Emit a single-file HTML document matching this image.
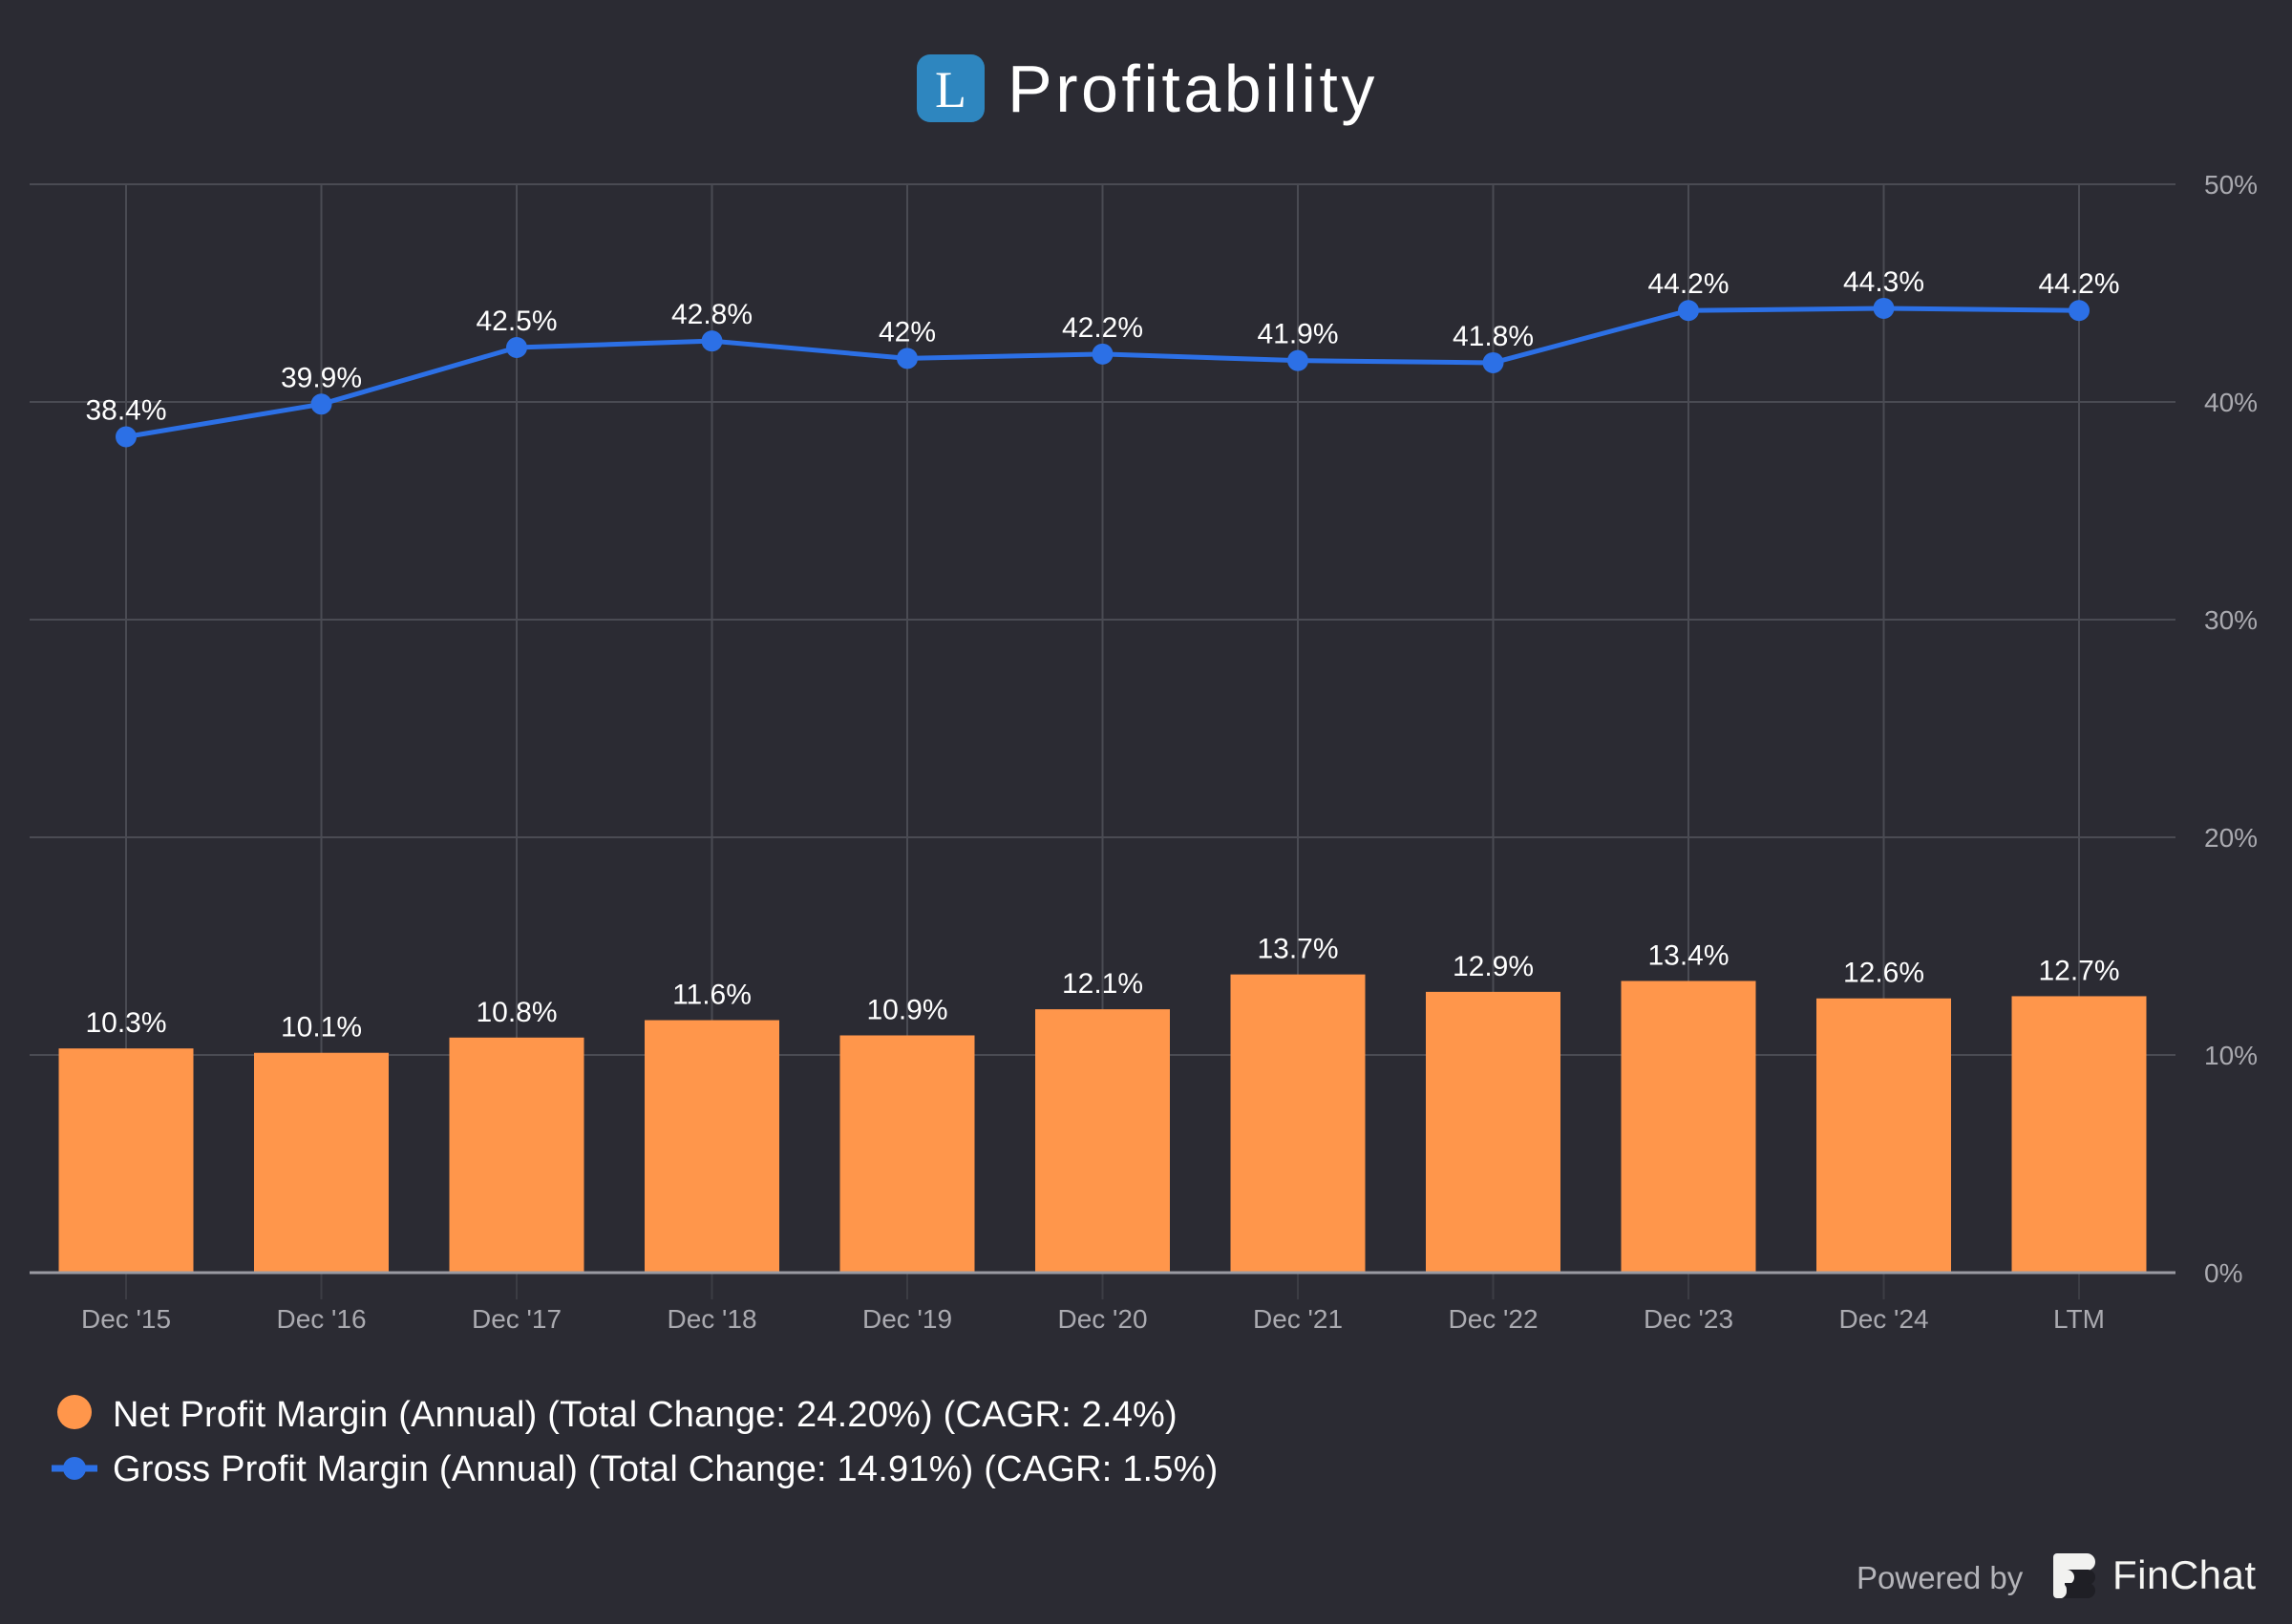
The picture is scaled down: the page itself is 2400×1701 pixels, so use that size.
<!DOCTYPE html>
<html><head><meta charset="utf-8"><style>
html,body{margin:0;padding:0;background:#2b2b33;}
svg{display:block;font-family:"Liberation Sans",sans-serif;}
</style></head><body>
<svg width="2400" height="1701" viewBox="0 0 2400 1701">
<rect x="0" y="0" width="2400" height="1701" fill="#2b2b33"/>
<g>
<rect x="960" y="57" width="71" height="71" rx="14" fill="#2e86bf"/>
<text x="995.5" y="112" font-family="Liberation Serif,serif" font-size="54" fill="#fff" text-anchor="middle">L</text>
<text x="1055" y="117" font-size="70" letter-spacing="3.5" fill="#fff">Profitability</text>
</g>
<g id="grid"></g>
<g id="bars"></g>
<g id="line"></g>
<g id="xaxis"></g>
<g>
<g>
<circle cx="78" cy="1479" r="18" fill="#ff964b"/>
<text x="118" y="1494" font-size="38" letter-spacing="0.2" fill="#fff">Net Profit Margin (Annual) (Total Change: 24.20%) (CAGR: 2.4%)</text>
</g>
<g>
<line x1="54" y1="1538" x2="102" y2="1538" stroke="#2c70e6" stroke-width="7"/>
<circle cx="78" cy="1538" r="12" fill="#2c70e6"/>
<text x="118" y="1551" font-size="38" letter-spacing="0.2" fill="#fff">Gross Profit Margin (Annual) (Total Change: 14.91%) (CAGR: 1.5%)</text>
</g>
</g>
<g>
<text x="1944" y="1664" font-size="33" fill="#b4b4b9">Powered by</text>
<rect x="2150" y="1627" width="44" height="18" rx="9" fill="#f2f2f0"/>
<rect x="2150" y="1644" width="44" height="16" rx="8" fill="#1f1f25"/>
<rect x="2150" y="1644" width="22" height="16" rx="8" fill="#f2f2f0"/>
<rect x="2150" y="1658" width="44" height="16" rx="8" fill="#1f1f25"/>
<rect x="2150" y="1658" width="14" height="16" rx="7" fill="#f2f2f0"/>
<rect x="2150" y="1627" width="12" height="47" rx="4" fill="#f2f2f0"/>
<text x="2212" y="1664" font-size="42" letter-spacing="0.5" fill="#f5f5f3">FinChat</text>
</g>
</svg>
<script>
const categories=["Dec '15","Dec '16","Dec '17","Dec '18","Dec '19","Dec '20","Dec '21","Dec '22","Dec '23","Dec '24","LTM"];
const netMargin=[10.3,10.1,10.8,11.6,10.9,12.1,13.7,12.9,13.4,12.6,12.7];
const grossMargin=[38.4,39.9,42.5,42.8,42.0,42.2,41.9,41.8,44.2,44.3,44.2];
const yTicks=[0,10,20,30,40,50];
const NS="http://www.w3.org/2000/svg";
const plotL=31,plotR=2278,y0=1333,y50=193,firstX=132,step=204.5,barW=141;
function xs(i){return firstX+i*step;}
function ys(v){return y0-(v/50)*(y0-y50);}
function mk(tag,attrs,parent){const e=document.createElementNS(NS,tag);for(const k in attrs)e.setAttribute(k,attrs[k]);parent.appendChild(e);return e;}
const grid=document.getElementById('grid'),bars=document.getElementById('bars'),line=document.getElementById('line'),xaxis=document.getElementById('xaxis');
yTicks.forEach(t=>{
  if(t>0){const g=mk('line',{x1:plotL,x2:plotR,y1:ys(t),y2:ys(t),stroke:'#4a4b53','stroke-width':2},grid);
  
  }
  const l=mk('text',{x:2308,y:ys(t)+10,'font-size':28,fill:'#aaaab0'},grid);l.textContent=t+'%';
  
  
});
categories.forEach((c,i)=>{
  const g=mk('line',{x1:xs(i),x2:xs(i),y1:y50,y2:y0,stroke:'#4a4b53','stroke-width':2},grid);
  
  
  const tk=mk('line',{x1:xs(i),x2:xs(i),y1:y0,y2:y0+28,stroke:'#3c3d44','stroke-width':2},xaxis);
  
  
  const t=mk('text',{x:xs(i),y:y0+58,'font-size':28,fill:'#aaaab0','text-anchor':'middle'},xaxis);t.textContent=c;
  
  
});
const ax=mk('line',{x1:plotL,x2:plotR,y1:y0,y2:y0,stroke:'#9a9aa2','stroke-width':3},xaxis);


netMargin.forEach((v,i)=>{
  const r=mk('rect',{x:xs(i)-barW/2,y:ys(v),width:barW,height:y0-ys(v),fill:'#ff964b'},bars);
  
  
  const t=mk('text',{x:xs(i),y:ys(v)-17,'font-size':30,fill:'#fff','text-anchor':'middle'},bars);t.textContent=v+'%';
  
  
});
const pts=grossMargin.map((v,i)=>xs(i)+','+ys(v)).join(' ');
const pl=mk('polyline',{points:pts,fill:'none',stroke:'#2c70e6','stroke-width':5},line);


grossMargin.forEach((v,i)=>{
  const c=mk('circle',{cx:xs(i),cy:ys(v),r:11,fill:'#2c70e6'},line);
  
  
  const t=mk('text',{x:xs(i),y:ys(v)-18,'font-size':30,fill:'#fff','text-anchor':'middle'},line);t.textContent=(+v.toFixed(1))+'%';
  
  
});
</script>
</body></html>
